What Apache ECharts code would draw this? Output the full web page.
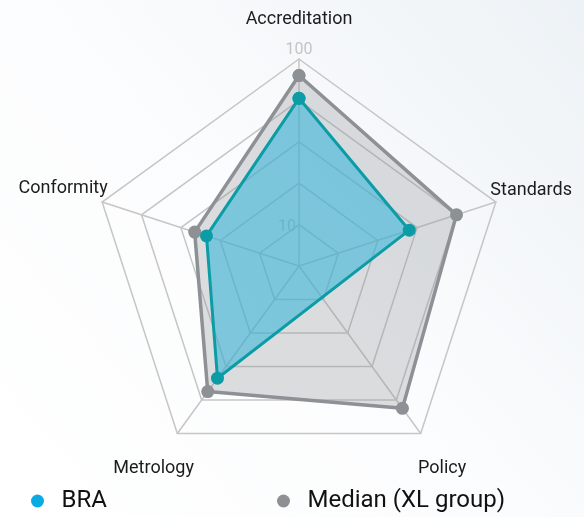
<!DOCTYPE html>
<html>
<head>
<meta charset="utf-8">
<script src="https://cdn.jsdelivr.net/npm/echarts@6/dist/echarts.min.js"></script>
<style>
  html, body { margin: 0; padding: 0; }
  #main { width: 584px; height: 517px; }
</style>
</head>
<body>
<div id="main"></div>
<script>
// indicators go counter-clockwise from the top, like the radar does
const indicators = ['Accreditation', 'Conformity', 'Metrology', 'Policy', 'Standards'];
const braValues = [81, 47, 67, null, 56]; // no Policy value for BRA
const medianValues = [92, 53, 75, 85, 80];
const tickValues = [20, 100];
const tickLabels = ['10', '100'];

const CENTER = [299, 266];
const RADIUS = 207;

// polar points [radius, angle], closed back to the first one
const toPolar = (values) => {
  const pts = values.map((v, i) => [v, i * 360 / values.length]);
  pts.push([values[0], 360]);
  return pts;
};

const chart = echarts.init(document.getElementById('main'));

// paddings push each name to where it sits in the picture
const namePad = {
  Accreditation: [0, 0, 61, 0],
  Standards: [0, 0, 42, 23],
  Conformity: [0, 23, 45, 0],
  Metrology: [119, 1, 0, 0],
  Policy: [119, 0, 0, 15]
};
const nameRich = {};
indicators.forEach((n, i) => {
  nameRich['n' + i] = { padding: namePad[n], fontSize: 18, color: '#1c1c1c', fontFamily: 'Roboto' };
});

const option = {
  backgroundColor: new echarts.graphic.LinearGradient(0, 1, 1, 0, [
    { offset: 0, color: '#ffffff' },
    { offset: 0.5, color: '#fbfcfd' },
    { offset: 1, color: '#edf2f6' }
  ]),
  textStyle: { fontFamily: 'Roboto' },
  legend: [
    {
      data: [{ name: 'BRA', itemStyle: { color: '#0aabe3' } }],
      left: 31, top: 489, padding: 0,
      icon: 'circle', itemWidth: 38, itemHeight: 13,
      textStyle: { fontSize: 24, color: '#111' }
    },
    {
      data: [{ name: 'Median (XL group)', itemStyle: { color: '#8e9194' } }],
      left: 277, top: 489, padding: 0,
      icon: 'circle', itemWidth: 38, itemHeight: 13,
      textStyle: { fontSize: 24, color: '#111' }
    }
  ],
  radar: {
    center: CENTER,
    radius: RADIUS,
    splitNumber: 5,
    nameGap: -30,
    indicator: indicators.map((n) => ({ name: n, min: 0, max: 100 })),
    axisName: {
      formatter: (name) => '{n' + indicators.indexOf(name) + '|' + name + '}',
      rich: nameRich
    },
    axisLine: { lineStyle: { color: '#c6c6c6', width: 1.5 } },
    splitLine: { lineStyle: { color: '#c6c6c6', width: 1.5 } },
    splitArea: { show: false }
  },
  polar: { center: CENTER, radius: RADIUS },
  angleAxis: {
    type: 'value', min: 0, max: 360, startAngle: 90, clockwise: false, show: false
  },
  radiusAxis: {
    type: 'value', min: 0, max: 100, interval: 20,
    axisLine: { show: false },
    axisTick: { show: false },
    splitLine: { show: false },
    axisLabel: {
      margin: 0, align: 'center', verticalAlign: 'middle',
      formatter: (v) => {
        const k = tickValues.indexOf(v);
        if (k < 0) return '';
        return (k === 0 ? '{a|' : '{b|') + tickLabels[k] + '}';
      },
      rich: {
        a: { fontSize: 16, color: '#c4c4c4', padding: [4, 24, 0, 0] },
        b: { fontSize: 16, color: '#c4c4c4', padding: [0, 0, 18, 0] }
      }
    }
  },
  series: [
    {
      name: 'Median (XL group)',
      type: 'line',
      coordinateSystem: 'polar',
      data: toPolar(medianValues),
      symbol: 'circle', symbolSize: 13,
      lineStyle: { color: '#8d9094', width: 3.5 },
      itemStyle: { color: '#8d9094' },
      areaStyle: { color: '#8e9399', opacity: 0.3 }
    },
    {
      name: 'BRA',
      type: 'line',
      coordinateSystem: 'polar',
      data: toPolar(braValues),
      connectNulls: true,
      symbol: 'circle', symbolSize: 13,
      lineStyle: { color: '#0c9ca6', width: 3 },
      itemStyle: { color: '#0c9ca6' },
      areaStyle: { color: '#30b5da', opacity: 0.55 }
    }
  ]
};

chart.setOption(option);
</script>
</body>
</html>
